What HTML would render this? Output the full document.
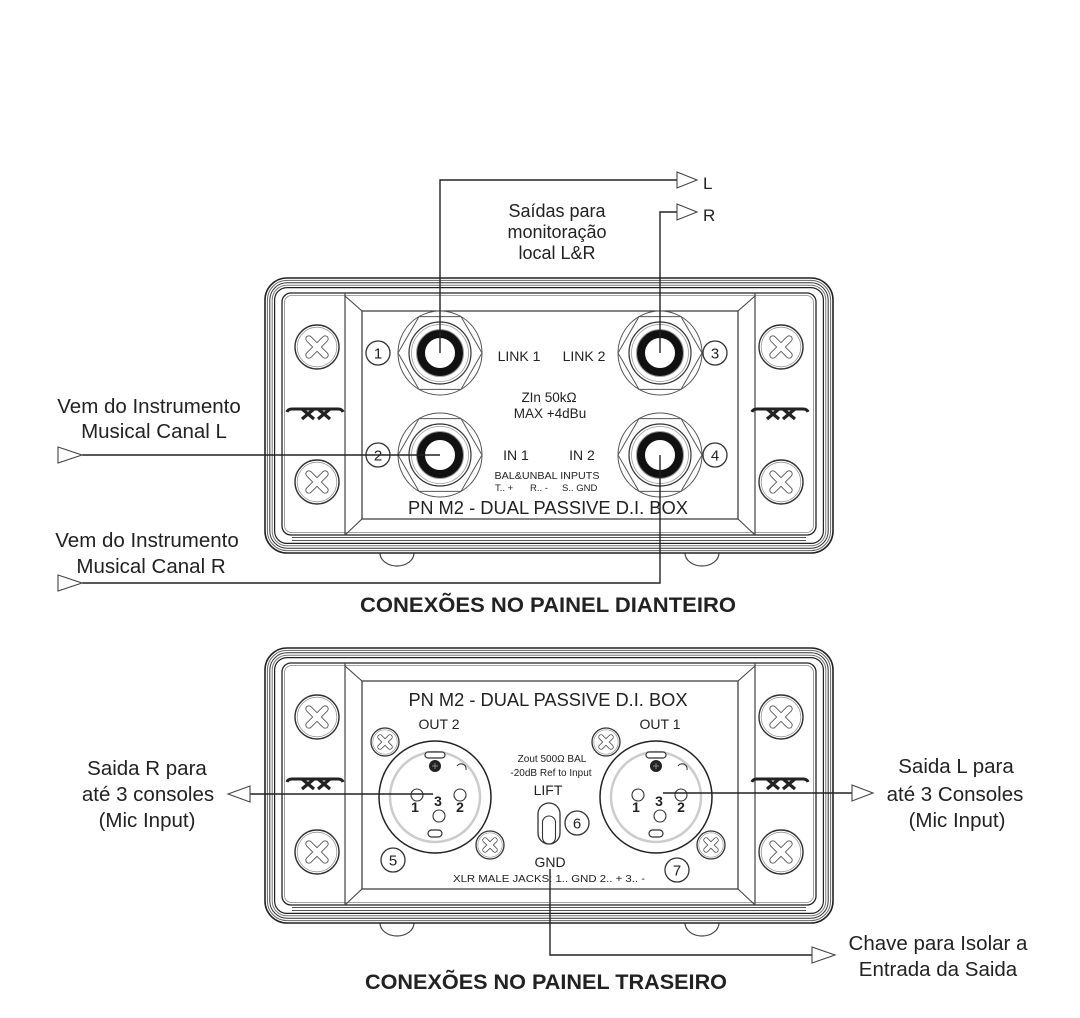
<!DOCTYPE html>
<html>
<head>
<meta charset="utf-8">
<style>
html,body{margin:0;padding:0;background:#fff;}
svg{display:block;}
text{font-family:"Liberation Sans",Arial,sans-serif;fill:#222;}
</style>
</head>
<body>
<svg width="1080" height="1018" viewBox="0 0 1080 1018" xmlns="http://www.w3.org/2000/svg">
<defs>
  <g id="screw">
    <circle r="22" fill="#fff" stroke="#333" stroke-width="1.4"/>
    <circle r="19.8" fill="none" stroke="#999" stroke-width="0.8"/>
    <g transform="rotate(45)">
      <path d="M-11.5,0H11.5M0,-11.5V11.5" stroke="#555" stroke-width="7" stroke-linecap="round"/>
      <path d="M-11.5,0H11.5M0,-11.5V11.5" stroke="#fff" stroke-width="5.2" stroke-linecap="round"/>
    </g>
  </g>
  <g id="sscrew">
    <circle r="14" fill="#fff" stroke="#333" stroke-width="1.3"/>
    <circle r="12.2" fill="none" stroke="#999" stroke-width="0.7"/>
    <g transform="rotate(45)">
      <path d="M-7,0H7M0,-7V7" stroke="#555" stroke-width="5.5" stroke-linecap="round"/>
      <path d="M-7,0H7M0,-7V7" stroke="#fff" stroke-width="3.8" stroke-linecap="round"/>
    </g>
  </g>
  <g id="xx">
    <path d="M-29,3 Q-28,0 -24,0 H22 Q26,0 27,3" fill="none" stroke="#222" stroke-width="3"/>
    <path d="M-14,0 L-2,10 M-2,0 L-14,10 M2,0 L14,10 M14,0 L2,10" fill="none" stroke="#222" stroke-width="3.2"/>
  </g>
  <g id="jack">
    <circle r="42" fill="#fff" stroke="#555" stroke-width="1"/>
    <polygon points="42,0 21,36.4 -21,36.4 -42,0 -21,-36.4 21,-36.4" fill="none" stroke="#555" stroke-width="1"/>
    <circle r="31" fill="none" stroke="#333" stroke-width="1.2"/>
    <circle r="28.5" fill="none" stroke="#999" stroke-width="0.8"/>
    <circle r="23.5" fill="none" stroke="#888" stroke-width="0.8"/>
    <circle r="19" fill="none" stroke="#111" stroke-width="8"/>
  </g>
  <g id="xlr">
    <circle r="56" fill="#fff" stroke="#222" stroke-width="1.5"/>
    <circle r="45" fill="none" stroke="#ccc" stroke-width="2.5"/>
    <rect x="-10" y="-45" width="20" height="6" rx="3" fill="#fff" stroke="#333" stroke-width="1.2"/>
    <circle cx="0" cy="-31" r="6" fill="#222"/>
    <path d="M-3,-31H3M0,-34V-28" stroke="#888" stroke-width="1"/>
    <path d="M22,-31 a5,5 0 0 1 9,4" fill="none" stroke="#333" stroke-width="1.1"/>
    <circle cx="-18" cy="-2" r="6" fill="#fff" stroke="#333" stroke-width="1.1"/>
    <circle cx="25" cy="-2" r="6" fill="#fff" stroke="#333" stroke-width="1.1"/>
    <circle cx="4" cy="19" r="6" fill="#fff" stroke="#333" stroke-width="1.1"/>
    <rect x="-7" y="33" width="14" height="7" rx="3.5" fill="#fff" stroke="#333" stroke-width="1.2"/>
    <text x="-20" y="15" font-size="14" font-weight="bold" text-anchor="middle">1</text>
    <text x="3" y="9" font-size="14" font-weight="bold" text-anchor="middle">3</text>
    <text x="25" y="15" font-size="14" font-weight="bold" text-anchor="middle">2</text>
    <use href="#sscrew" x="-50" y="-55"/>
    <use href="#sscrew" x="55" y="48"/>
  </g>
  <g id="box">
    <path d="M380,275 A17,13 0 0 0 414,275" fill="#fff" stroke="#444" stroke-width="1.2"/>
    <path d="M685,275 A17,13 0 0 0 719,275" fill="#fff" stroke="#444" stroke-width="1.2"/>
    <rect x="265" y="0" width="568" height="275" rx="22" fill="#fff" stroke="#222" stroke-width="1.6"/>
    <rect x="267.4" y="2.4" width="563.2" height="270.2" rx="19.6" fill="none" stroke="#666" stroke-width="1"/>
    <rect x="269.8" y="4.8" width="558.4" height="265.4" rx="17.2" fill="none" stroke="#333" stroke-width="1"/>
    <rect x="272.2" y="7.2" width="553.6" height="260.6" rx="14.8" fill="none" stroke="#777" stroke-width="1"/>
    <rect x="274.6" y="9.6" width="548.8" height="255.8" rx="12.4" fill="none" stroke="#222" stroke-width="1.2"/>
    <path d="M292,259.5H806M292,262.5H806" stroke="#555" stroke-width="1"/>
    <rect x="282" y="15" width="534" height="242" rx="9" fill="#fff" stroke="#222" stroke-width="1.3"/>
    <rect x="284.5" y="17.5" width="529" height="237" rx="7" fill="none" stroke="#888" stroke-width="0.8"/>
    <path d="M345,15V257M755,15V257" stroke="#444" stroke-width="1.2"/>
    <path d="M345,18L362,33M345,257L362,241M755,18L738,33M755,257L738,241" stroke="#444" stroke-width="1.1"/>
    <rect x="362" y="33" width="376" height="208" fill="none" stroke="#333" stroke-width="1.2"/>
    <use href="#screw" x="317" y="69"/>
    <use href="#screw" x="317" y="204"/>
    <use href="#screw" x="781" y="69"/>
    <use href="#screw" x="781" y="204"/>
    <use href="#xx" x="316" y="131"/>
    <use href="#xx" x="781" y="131"/>
  </g>
</defs>

<!-- FRONT PANEL -->
<use href="#box" x="0" y="278"/>
<use href="#jack" x="440" y="353"/>
<use href="#jack" x="440" y="455"/>
<use href="#jack" x="660" y="353"/>
<use href="#jack" x="660" y="455"/>

<g fill="#fff" stroke="#333" stroke-width="1.3">
  <circle cx="378" cy="353" r="12"/>
  <circle cx="378" cy="455" r="12"/>
  <circle cx="715" cy="353" r="12"/>
  <circle cx="715" cy="455" r="12"/>
</g>

<!-- front connectors -->
<g fill="none" stroke="#222" stroke-width="1.4">
  <path d="M440,353V180H677"/>
  <path d="M660,353V212H677"/>
  <path d="M82,455H440"/>
  <path d="M82,583H660V455"/>
</g>
<g fill="#fff" stroke="#444" stroke-width="1.1">
  <polygon points="677,172 697,180 677,188"/>
  <polygon points="677,204 697,212 677,220"/>
  <polygon points="58,447 82,455 58,463"/>
  <polygon points="58,575 82,583 58,591"/>
</g>

<g font-size="15" text-anchor="middle">
  <text x="378" y="358.5">1</text>
  <text x="378" y="460.5">2</text>
  <text x="715" y="358.5">3</text>
  <text x="715" y="460.5">4</text>
</g>

<text x="703" y="189" font-size="17">L</text>
<text x="703" y="221" font-size="17">R</text>
<g font-size="18" text-anchor="middle">
  <text x="557" y="217">Saídas para</text>
  <text x="557" y="238">monitoração</text>
  <text x="557" y="259">local L&amp;R</text>
</g>

<g font-size="14" text-anchor="middle">
  <text x="519" y="361">LINK 1</text>
  <text x="584" y="361">LINK 2</text>
  <text x="516" y="460">IN 1</text>
  <text x="582" y="460">IN 2</text>
</g>
<g font-size="13.5" text-anchor="middle">
  <text x="549" y="402">ZIn 50kΩ</text>
  <text x="550" y="418">MAX +4dBu</text>
</g>
<text x="547" y="479" font-size="10.5" text-anchor="middle" textLength="105" lengthAdjust="spacingAndGlyphs">BAL&amp;UNBAL INPUTS</text>
<g font-size="9.5">
  <text x="495" y="491">T.. +</text>
  <text x="530" y="491">R.. -</text>
  <text x="562" y="491">S.. GND</text>
</g>
<text x="548" y="514" font-size="18" text-anchor="middle" textLength="280" lengthAdjust="spacingAndGlyphs">PN M2 - DUAL PASSIVE D.I. BOX</text>

<g font-size="20.5" text-anchor="middle">
  <text x="149" y="413">Vem do Instrumento</text>
  <text x="154" y="438">Musical Canal L</text>
  <text x="147" y="547">Vem do Instrumento</text>
  <text x="151" y="573">Musical Canal R</text>
</g>

<text x="548" y="612" font-size="21" font-weight="bold" text-anchor="middle" textLength="376" lengthAdjust="spacingAndGlyphs">CONEXÕES NO PAINEL DIANTEIRO</text>

<!-- REAR PANEL -->
<use href="#box" x="0" y="648"/>
<use href="#xlr" x="435" y="797"/>
<use href="#xlr" x="656" y="797"/>

<rect x="538" y="803" width="22" height="41" rx="11" fill="#fff" stroke="#333" stroke-width="1.3"/>
<rect x="542.5" y="816" width="13" height="28" rx="6.5" fill="none" stroke="#333" stroke-width="1.1"/>

<g fill="#fff" stroke="#333" stroke-width="1.3">
  <circle cx="393" cy="860" r="12"/>
  <circle cx="577" cy="823" r="12"/>
  <circle cx="677" cy="870" r="12"/>
</g>
<g font-size="15" text-anchor="middle">
  <text x="393" y="865.5">5</text>
  <text x="577" y="828.5">6</text>
  <text x="677" y="875.5">7</text>
</g>

<text x="548" y="706" font-size="18" text-anchor="middle" textLength="279" lengthAdjust="spacingAndGlyphs">PN M2 - DUAL PASSIVE D.I. BOX</text>
<g font-size="14" text-anchor="middle">
  <text x="439" y="729">OUT 2</text>
  <text x="660" y="729">OUT 1</text>
  <text x="548" y="795">LIFT</text>
  <text x="550" y="867">GND</text>
</g>
<g font-size="10" text-anchor="middle">
  <text x="552" y="762">Zout 500Ω BAL</text>
  <text x="551" y="776">-20dB Ref to Input</text>
</g>
<text x="453" y="882" font-size="10" textLength="192" lengthAdjust="spacingAndGlyphs">XLR MALE JACKS: 1.. GND  2.. +  3.. -</text>

<!-- rear connectors -->
<g fill="none" stroke="#222" stroke-width="1.4">
  <path d="M250,794H433"/>
  <path d="M663,793H852"/>
  <path d="M550,869V955H812"/>
</g>
<g fill="#fff" stroke="#444" stroke-width="1.1">
  <polygon points="228,794 250,786 250,802"/>
  <polygon points="852,785 873,793 852,801"/>
  <polygon points="812,947 835,955 812,963"/>
</g>

<g font-size="20.5" text-anchor="middle">
  <text x="147" y="775">Saida R para</text>
  <text x="148" y="801">até 3 consoles</text>
  <text x="147" y="827">(Mic Input)</text>
  <text x="956" y="773">Saida L para</text>
  <text x="955" y="801">até 3 Consoles</text>
  <text x="957" y="827">(Mic Input)</text>
  <text x="938" y="950">Chave para Isolar a</text>
  <text x="938" y="976">Entrada da Saida</text>
</g>

<text x="546" y="989" font-size="21" font-weight="bold" text-anchor="middle" textLength="362" lengthAdjust="spacingAndGlyphs">CONEXÕES NO PAINEL TRASEIRO</text>
</svg>
</body>
</html>
